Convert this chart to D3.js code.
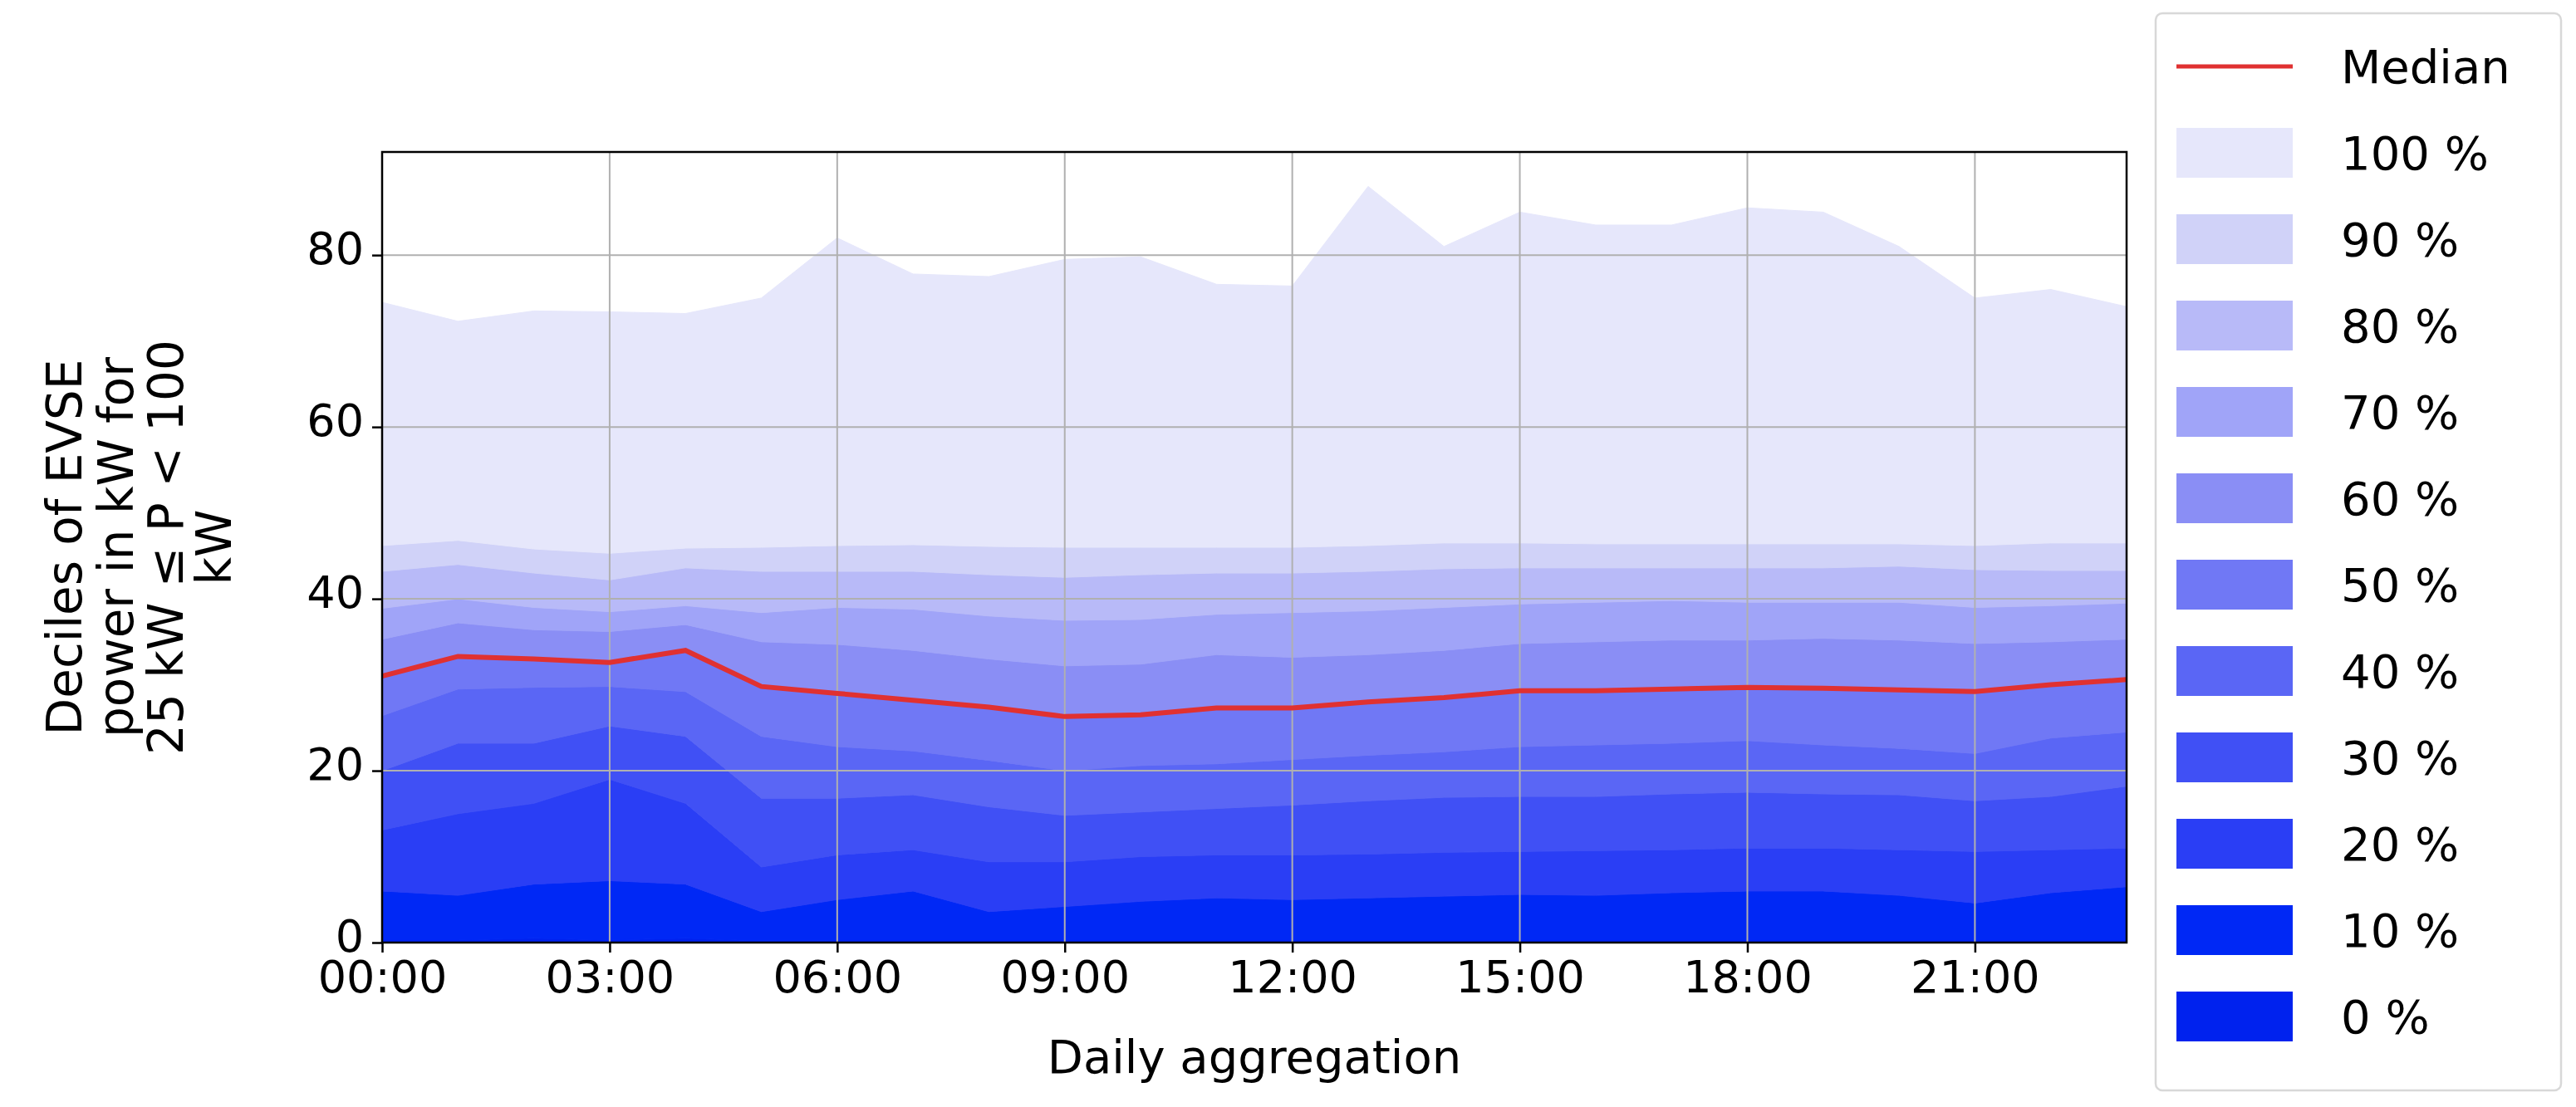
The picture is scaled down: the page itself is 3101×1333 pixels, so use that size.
<!DOCTYPE html>
<html><head><meta charset="utf-8">
<script src="https://cdn.jsdelivr.net/npm/d3@7"></script>
<style>body{margin:0;background:#fff}svg{display:block}text{font-family:"DejaVu Sans",sans-serif}</style>
</head><body>
<svg id="c" width="3101" height="1333"></svg>
<script>
const hours = d3.range(24);
const xTickLabels = ["00:00","03:00","06:00","09:00","12:00","15:00","18:00","21:00"];
const yTicks = [0,20,40,60,80];
const d0 =  [0.3,0.3,0.5,0.3,0.5,0.2,0.3,0.3,0.3,0.3,0.3,0.3,0.3,0.3,0.3,0.3,0.3,0.3,0.3,0.3,0.3,0.3,0.3,0.3];
const d10 = [6,5.5,6.8,7.2,6.8,3.6,5,6,3.6,4.2,4.8,5.2,5,5.2,5.4,5.6,5.5,5.8,6,6,5.5,4.6,5.8,6.5];
const d20 = [13.1,15,16.2,19,16.2,8.8,10.2,10.8,9.4,9.4,10,10.2,10.2,10.3,10.5,10.6,10.7,10.8,11,11,10.8,10.6,10.8,11];
const d30 = [20,23.2,23.2,25.2,24,16.8,16.8,17.2,15.8,14.8,15.2,15.6,16,16.5,16.9,17,17,17.3,17.5,17.3,17.2,16.5,17,18.2];
const d40 = [26.4,29.5,29.7,29.8,29.2,24,22.8,22.3,21.2,20,20.6,20.8,21.3,21.8,22.2,22.8,23,23.2,23.5,23,22.6,22,23.8,24.5];
const d50 = [31,33.3,33,32.6,34,29.8,29,28.2,27.4,26.3,26.5,27.3,27.3,28,28.5,29.3,29.3,29.5,29.7,29.6,29.4,29.2,30,30.6];
const d60 = [35.3,37.2,36.4,36.2,37,35,34.7,34,33,32.2,32.4,33.5,33.2,33.5,34,34.8,35,35.2,35.2,35.4,35.2,34.8,35,35.3];
const d70 = [38.9,40,39,38.5,39.2,38.4,39,38.8,38,37.5,37.6,38.2,38.4,38.6,39,39.4,39.6,39.8,39.6,39.6,39.6,39,39.2,39.5];
const d80 = [43.2,44,43,42.2,43.6,43.2,43.2,43.2,42.8,42.5,42.8,43,43,43.2,43.5,43.6,43.6,43.6,43.6,43.6,43.8,43.4,43.3,43.3];
const d90 = [46.2,46.8,45.8,45.3,45.9,46,46.2,46.3,46.1,46,46,46,46,46.2,46.5,46.5,46.4,46.4,46.4,46.4,46.4,46.2,46.5,46.5];
const d100 = [74.5,72.3,73.5,73.4,73.2,75,82,77.8,77.5,79.5,79.8,76.6,76.4,88,81,85,83.5,83.5,85.5,85,81,75,76,74];
const median = d50;
const deciles = [d0,d10,d20,d30,d40,d50,d60,d70,d80,d90,d100];
const labels = ["0 %","10 %","20 %","30 %","40 %","50 %","60 %","70 %","80 %","90 %","100 %"];
const colors = ["#0022ee","#0028f5","#2a3ef5","#4050f5","#5a66f5","#7078f5","#8a8ef5","#a0a4f8","#b8baf8","#d0d2f8","#e6e7fb"];

const svg = d3.select("#c");
const L=460,R=2560,T=183,B=1135;
const x = d3.scaleLinear().domain([0,23]).range([L,R]);
const y = d3.scaleLinear().domain([0,92]).range([B,T]);

for(let k=0;k<deciles.length;k++){
  const lower = k===0 ? hours.map(()=>0) : deciles[k-1];
  const upper = deciles[k];
  const area = d3.area().x(i=>x(i)).y0(i=>y(lower[i])).y1(i=>y(upper[i]));
  svg.append("path").attr("d",area(hours)).attr("fill",colors[k]).attr("stroke",colors[k]).attr("stroke-width",1);
}
const g = svg.append("g");
const xt = [0,3,6,9,12,15,18,21];
xt.forEach(v=>g.append("line").attr("x1",x(v)).attr("x2",x(v)).attr("y1",T).attr("y2",B).attr("stroke","#b0b0b0").attr("stroke-width",2));
yTicks.forEach(v=>g.append("line").attr("x1",L).attr("x2",R).attr("y1",y(v)).attr("y2",y(v)).attr("stroke","#b0b0b0").attr("stroke-width",2));
svg.append("path").attr("d",d3.line().x(i=>x(i)).y(i=>y(median[i]))(hours)).attr("fill","none").attr("stroke","#e03131").attr("stroke-width",6);
svg.append("rect").attr("x",L).attr("y",T).attr("width",R-L).attr("height",B-T).attr("fill","none").attr("stroke","#000").attr("stroke-width",2.5);
const xa = svg.append("g").attr("transform",`translate(0,${B})`).call(d3.axisBottom(x).tickValues(xt).tickFormat((d,i)=>xTickLabels[i]).tickSize(12).tickPadding(10));
const ya = svg.append("g").attr("transform",`translate(${L},0)`).call(d3.axisLeft(y).tickValues(yTicks).tickSize(12).tickPadding(10));
[xa,ya].forEach(a=>{a.select(".domain").remove();a.selectAll("line").attr("stroke","#000").attr("stroke-width",2.5);a.selectAll("text").attr("font-size",54).attr("fill","#000").attr("font-family","DejaVu Sans");});
ya.selectAll("text").attr("dy","0.2em");
svg.append("text").attr("x",(L+R)/2).attr("y",1292).attr("text-anchor","middle").attr("font-size",56).text("Daily aggregation");
const yl = ["Deciles of EVSE","power in kW for","25 kW ≤ P < 100","kW"];
const bx = [98,160,220,278];
yl.forEach((s,i)=>svg.append("text").attr("transform",`translate(${bx[i]},${(T+B)/2}) rotate(-90)`).attr("text-anchor","middle").attr("font-size",58).text(s));
const lg = svg.append("g");
lg.append("rect").attr("x",2595).attr("y",16).attr("width",488).attr("height",1297).attr("rx",8).attr("fill","#fff").attr("stroke","#d8d8d8").attr("stroke-width",2.5);
const ly0=80, dy=104;
lg.append("line").attr("x1",2620).attr("x2",2760).attr("y1",ly0).attr("y2",ly0).attr("stroke","#e03131").attr("stroke-width",5);
lg.append("text").attr("x",2818).attr("y",ly0+20).attr("font-size",56).text("Median");
for(let j=0;j<11;j++){
  const k=10-j, yy=ly0+dy*(j+1);
  lg.append("rect").attr("x",2620).attr("y",yy-30).attr("width",140).attr("height",60).attr("fill",colors[k]);
  lg.append("text").attr("x",2818).attr("y",yy+20).attr("font-size",56).text(labels[k]);
}
</script></body></html>
